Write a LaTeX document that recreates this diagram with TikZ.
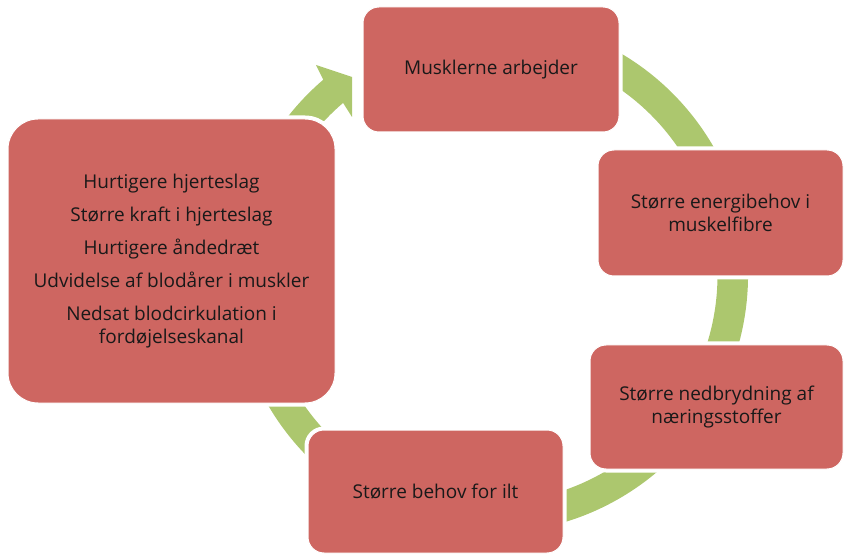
\documentclass[tikz,border=0pt]{standalone}
\usepackage{fontspec}
\setmainfont{Open Sans}
\definecolor{boxred}{RGB}{206,102,97}
\definecolor{bandgreen}{RGB}{172,199,110}
\definecolor{boxtext}{RGB}{25,25,25}

\begin{document}
\begin{tikzpicture}[x=1pt, y=1pt,
    stepbox/.style={rectangle, rounded corners=16pt, fill=boxred, draw=white, line width=1pt,
        preaction={draw=white, line width=7pt}, inner sep=0pt, align=center, text=boxtext,
        font=\fontsize{19}{23}\selectfont},
]
\useasboundingbox (0,0) rectangle (844,555);

\def\cx{490.5}
\def\cy{279.5}
\def\ro{257.5}
\def\ri{227}
\def\hb{130.5}

% cycle band with head
\fill[bandgreen] (\cx,\cy) ++(80:\ro) arc[start angle=80, end angle={\hb-360}, radius=\ro pt]
 -- (316,490) -- (352,478) -- (352,438)
 -- ([shift={(\cx,\cy)}]\hb:\ri) arc[start angle={\hb-360}, end angle=80, radius=\ri pt] -- cycle;

% boxes
\node[stepbox, minimum width=256pt, minimum height=125pt] (work) at (491,485.5) {Musklerne arbejder};
\node[stepbox, minimum width=245pt, minimum height=126pt] (energy) at (720.5,342) {Større energibehov i\\muskelfibre};
\node[stepbox, minimum width=253pt, minimum height=124pt] (breakdown) at (716.5,148) {Større nedbrydning af\\næringsstoffer};
\node[stepbox, minimum width=255pt, minimum height=123pt] (oxygen) at (435.5,63.5) {Større behov for ilt};
\node[stepbox, rounded corners=30pt, minimum width=327pt, minimum height=284pt] (response) at (171.5,294)
 {Hurtigere hjerteslag\\[10pt]Større kraft i hjerteslag\\[10pt]Hurtigere åndedræt\\[10pt]Udvidelse af blodårer i muskler\\[10pt]Nedsat blodcirkulation i\\fordøjelseskanal};
\end{tikzpicture}
\end{document}
